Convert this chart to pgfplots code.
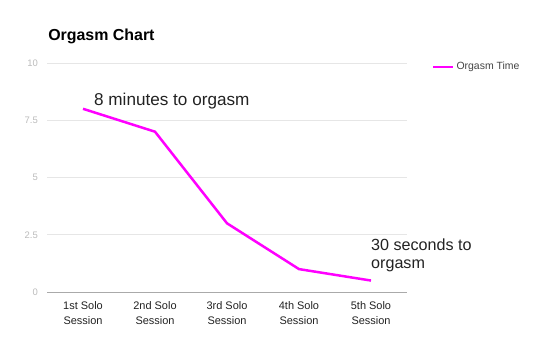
\documentclass[border=0pt]{standalone}
\usepackage{pgfplots}
\pgfplotsset{compat=1.18}
\usepackage{fontspec}
\setmainfont{Liberation Sans}
\definecolor{mag}{HTML}{FF00FF}
\definecolor{gridc}{HTML}{E6E6E6}
\definecolor{axc}{HTML}{AAAAAA}
\definecolor{ytc}{HTML}{BBBBBB}
\definecolor{txt}{HTML}{222222}
\definecolor{legc}{HTML}{444444}
\begin{document}
\begin{tikzpicture}
\begin{axis}[
  at={(0,0)}, anchor=south west,
  scale only axis, width=360bp, height=229bp,
  xmin=-0.5, xmax=4.5, ymin=0, ymax=10,
  xtick={0,1,2,3,4},
  xticklabels={{1st Solo\\Session},{2nd Solo\\Session},{3rd Solo\\Session},{4th Solo\\Session},{5th Solo\\Session}},
  xticklabel style={align=center, font=\fontsize{11}{15}\selectfont, text=txt, inner sep=0pt, anchor=north, yshift=-9bp},
  ytick={0,2.5,5,7.5,10},
  yticklabels={0,2.5,5,7.5,10},
  yticklabel style={font=\fontsize{9.5}{10}\selectfont, text=ytc, anchor=east, inner sep=0pt, xshift=-9bp},
  /pgf/number format/assume math mode=true,
  major tick length=0pt,
  ymajorgrids, grid style={gridc, line width=0.8bp},
  axis x line*=bottom, axis y line*=left,
  x axis line style={axc, line width=1bp, -},
  y axis line style={draw=none},
  legend style={at={(axis description cs:1.069,0.983)}, anchor=west, draw=none, fill=none,
    font=\fontsize{10.5}{12}\selectfont, text=legc, inner sep=0pt,
    nodes={inner sep=2bp}},
  legend image code/.code={\draw[#1] (0bp,0bp) -- (20bp,0bp);},
  clip=false,
]
\addplot[mag, line width=2.5bp] coordinates {(0,8) (1,7) (2,3) (3,1) (4,0.5)};
\addlegendentry{Orgasm Time}
\node[anchor=base west, inner sep=0pt, text=txt, font=\fontsize{17.2}{18}\selectfont, xshift=11bp, yshift=3bp] at (axis cs:0,8) {8 minutes to orgasm};
\node[anchor=base west, inner sep=0pt, text=txt, font=\fontsize{16.2}{18}\selectfont, align=left, yshift=12bp] at (axis cs:4,0.5) {30 seconds to\\orgasm};
\node[anchor=base west, inner sep=0pt, font=\bfseries\fontsize{16}{18}\selectfont] at (axis description cs:0.003,1.1) {Orgasm Chart};
\end{axis}
\pgfresetboundingbox
\path (-47bp,-63bp) rectangle (493bp,292bp);
\end{tikzpicture}
\end{document}
